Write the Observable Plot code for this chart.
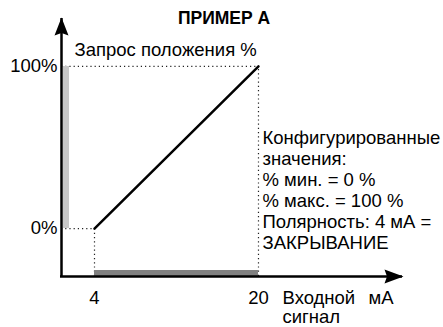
<!DOCTYPE html>
<html>
<head>
<meta charset="utf-8">
<script src="https://cdn.jsdelivr.net/npm/d3@7"></script>
<script src="https://cdn.jsdelivr.net/npm/@observablehq/plot@0.6"></script>
<style>
  html, body { margin: 0; padding: 0; background: #fff; overflow: hidden; }
</style>
</head>
<body>
<div id="chart"></div>
<script>
// ---- data ----
const signalMA = [4, 20];          // input signal, mA
const positionPct = [0, 100];      // position demand, %
const xTicks = [4, 20];
const yTicks = [0, 100];
const yTickLabels = ["0%", "100%"];
const xDomain = [0.78, 34.15];     // axis extents (origin .. arrow tip)
const yDomain = [-29.6, 130.2];

const titleText = "ПРИМЕР А";
const yTitle = "Запрос положения %";
const xTitle = "Входной\nсигнал";
const xUnit = "мА";
const configLines = [
  "Конфигурированные",
  "значения:",
  "% мин. = 0 %",
  "% макс. = 100 %",
  "Полярность: 4 мА =",
  "ЗАКРЫВАНИЕ"
];

// ---- derived tables ----
const line = signalMA.map((x, i) => ({x, y: positionPct[i]}));
const lo = line[0], hi = line[line.length - 1];

const arrowUp = {draw(ctx) { ctx.moveTo(0, 0); ctx.lineTo(7, 18); ctx.lineTo(0, 15.5); ctx.lineTo(-7, 18); ctx.closePath(); }};
const arrowRight = {draw(ctx) { ctx.moveTo(0, 0); ctx.lineTo(-19, -7); ctx.lineTo(-16.5, 0); ctx.lineTo(-19, 7); ctx.closePath(); }};

const FONT = "'Liberation Sans', Arial, Helvetica, sans-serif";
const FS = 18.5;
const dotted = {stroke: "#222", strokeWidth: 1.2, strokeDasharray: "1.2,3"};

const chart = Plot.plot({
  width: 443,
  height: 327,
  marginLeft: 61,
  marginRight: 40,
  marginTop: 17,
  marginBottom: 51,
  x: {domain: xDomain},
  y: {domain: yDomain},
  style: {fontFamily: FONT, fontSize: FS + "px", color: "#000", background: "#fff"},
  marks: [
    // dotted guides
    Plot.ruleY([hi], {y: "y", x1: xDomain[0], x2: hi.x, ...dotted}),
    Plot.ruleX([hi], {x: "x", y1: yDomain[0], y2: hi.y, ...dotted}),
    Plot.ruleY([lo], {y: "y", x1: xDomain[0], x2: lo.x, ...dotted}),
    Plot.ruleX([lo], {x: "x", y1: yDomain[0], y2: lo.y, ...dotted}),
    // range bars
    Plot.ruleX([xDomain[0]], {x: d => d, y1: lo.y, y2: hi.y, dx: 4.5, stroke: "#c8c8c8", strokeWidth: 6}),
    Plot.ruleY([yDomain[0]], {y: d => d, x1: lo.x, x2: hi.x, dy: -3.5, stroke: "#808080", strokeWidth: 6}),
    // axes lines
    Plot.ruleX([xDomain[0]], {x: d => d, y1: yDomain[0], y2: yDomain[1], dy: 1, stroke: "#000", strokeWidth: 2.5}),
    Plot.ruleY([yDomain[0]], {y: d => d, x1: xDomain[0], x2: xDomain[1], dx: -1, stroke: "#000", strokeWidth: 2.5}),
    Plot.dot([{x: xDomain[0], y: yDomain[1]}], {x: "x", y: "y", symbol: arrowUp, fill: "#000", stroke: "none"}),
    Plot.dot([{x: xDomain[1], y: yDomain[0]}], {x: "x", y: "y", symbol: arrowRight, fill: "#000", stroke: "none"}),
    // transfer line
    Plot.line(line, {x: "x", y: "y", stroke: "#000", strokeWidth: 2.5}),
    // tick labels
    Plot.axisY(yTicks, {tickSize: 0, tickPadding: 4, tickFormat: d => yTickLabels[yTicks.indexOf(d)], label: null, fontSize: FS}),
    Plot.axisX(xTicks, {tickSize: 0, tickPadding: 14, label: null, fontSize: FS}),
    // texts
    Plot.text([titleText], {text: d => d, frameAnchor: "top", lineAnchor: "middle", dx: -8.5, dy: 0.5, fontWeight: "bold", fontSize: 17.5}),
    Plot.text([yTitle], {text: d => d, frameAnchor: "top-left", textAnchor: "start", lineAnchor: "top", dx: 13, dy: 25, fontSize: FS}),
    Plot.text([configLines.join("\n")], {text: d => d, frameAnchor: "top-left", textAnchor: "start", lineAnchor: "top", dx: 201, dy: 112, lineHeight: 21 / FS, fontSize: FS}),
    Plot.text([xTitle], {text: d => d, frameAnchor: "bottom-left", textAnchor: "start", lineAnchor: "top", dx: 221, dy: 14, lineHeight: 19 / FS, fontSize: FS}),
    Plot.text([xUnit], {text: d => d, frameAnchor: "bottom-left", textAnchor: "start", lineAnchor: "top", dx: 307, dy: 14, fontSize: FS})
  ]
});
document.getElementById("chart").appendChild(chart);
</script>
</body>
</html>
